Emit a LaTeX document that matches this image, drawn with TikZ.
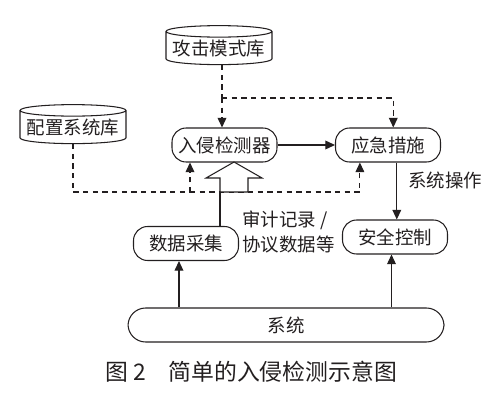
\documentclass[tikz,border=0pt]{standalone}
\usepackage{fontspec}
\newfontfamily\cjk{Noto Sans CJK SC}
\usepackage{xcolor}
\definecolor{ink}{RGB}{35,31,32}
\usetikzlibrary{
    shapes.geometric,
    arrows.meta,
    positioning,
    calc
}

\begin{document}
\begin{tikzpicture}[
        x=0.02cm, y=-0.02cm,
        font=\cjk\fontsize{10.5}{12}\selectfont,
        database/.style={cylinder, shape border rotate=90, aspect=0.12, draw=ink, line width=0.6pt, minimum width=2.12cm, minimum height=0.78cm, inner sep=1pt, text=ink},
        module/.style={rectangle, rounded corners=8pt, draw=ink, line width=0.6pt, minimum width=2.1cm, minimum height=0.68cm, inner sep=1pt, text=ink},
        link/.style={-{Triangle[length=5.5pt, width=5pt]}, line width=0.6pt, ink},
        dep/.style={-{Triangle[length=5.5pt, width=5pt]}, dashed, dash pattern=on 3pt off 2.5pt, line width=0.6pt, ink},
        seg/.style={dashed, dash pattern=on 3pt off 2.5pt, line width=0.6pt, ink}
    ]
        \useasboundingbox (0,0) rectangle (500,405);

        \node[database] (attackdb) at (219,49) {攻击模式库};
        \node[database] (configdb) at (73,128) {配置系统库};

        \node[module] (ids) at (224.5,145) {入侵检测器};
        \node[module] (resp) at (388,145) {应急措施};
        \node[module] (collect) at (186,243.5) {数据采集};
        \node[module] (secure) at (395,237) {安全控制};
        \node[module, rounded corners=10pt, minimum width=6.32cm] (sys) at (286,325) {系统};

        \node[anchor=west, align=left, text=ink, inner sep=0pt] (audit) at (242,232) {审计记录 /\\[2pt]协议数据等};
        \node[text=ink] (sysop) at (445,180) {系统操作};
        \node[text=ink, font=\cjk\fontsize{13}{14}\selectfont] (caption) at (251,372) {图 2\quad 简单的入侵检测示意图};

        % 攻击模式库
        \coordinate (asplit) at (222,98);
        \draw[seg] (asplit |- attackdb.south) -- (asplit);
        \draw[dep] (asplit) -- (asplit |- ids.north);
        \draw[dep] (asplit) -| ([xshift=3]resp.north);

        % 配置系统库
        \coordinate (cturn) at (configdb.south |- 0,192);
        \coordinate (cbranch) at (190,192);
        \draw[seg] (configdb.south) -- (cturn) -- (cbranch);
        \draw[dep] (cbranch) -- (cbranch |- ids.south);
        \draw[dep] (cbranch) -| ([xshift=-16]resp.south);

        % hollow arrow
        \coordinate (tip) at (234,162);
        \coordinate (tail) at (220,192);
        \draw[line width=0.6pt, ink, fill=white] (tip) -- ++(28,16) -- ++(-14,0) -- ++(0,14) -- ++(-28,0) -- ++(0,-14) -- ++(-14,0) -- cycle;
        \draw[line width=0.6pt, ink] (tail) -- (tail |- collect.north);

        \draw[link] (ids) -- (resp);
        \draw[link] ([xshift=5]resp.south) -- ([xshift=5]resp.south |- secure.north);
        \draw[link] ([xshift=-4]collect.south |- sys.north) -- ([xshift=-4]collect.south);
        \draw[link] ([xshift=-2]secure.south |- sys.north) -- ([xshift=-2]secure.south);
    \end{tikzpicture}
\end{document}
